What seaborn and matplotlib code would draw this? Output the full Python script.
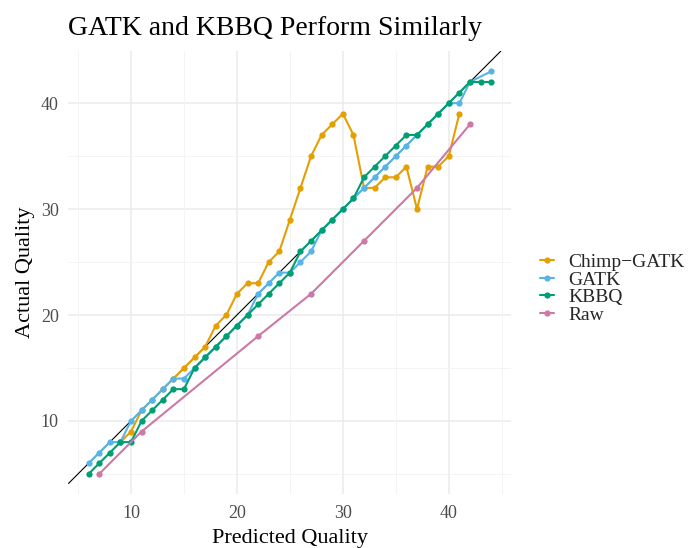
import numpy as np
import pandas as pd
import matplotlib
matplotlib.use("Agg")
import matplotlib.pyplot as plt
import seaborn as sns

# Calibration curves: predicted vs. actual base quality per method
chimp_x = [9, 10, 11, 12, 13, 14, 15, 16, 17, 18, 19, 20, 21, 22, 23, 24, 25,
           26, 27, 28, 29, 30, 31, 32, 33, 34, 35, 36, 37, 38, 39, 40, 41]
chimp_y = [8, 9, 11, 12, 13, 14, 15, 16, 17, 19, 20, 22, 23, 23, 25, 26, 29,
           32, 35, 37, 38, 39, 37, 32, 32, 33, 33, 34, 30, 34, 34, 35, 39]

gatk_x = [6, 7, 8, 9, 10, 11, 12, 13, 14, 15, 16, 17, 18, 19, 20, 21, 22, 23,
          24, 25, 26, 27, 28, 29, 30, 31, 32, 33, 34, 35, 36, 37, 38, 39, 40,
          41, 42, 44]
gatk_y = [6, 7, 8, 8, 10, 11, 12, 13, 14, 14, 15, 16, 17, 18, 19, 20, 22, 23,
          24, 24, 25, 26, 28, 29, 30, 31, 32, 33, 34, 35, 36, 37, 38, 39, 40,
          40, 42, 43]

kbbq_x = [6, 7, 8, 9, 10, 11, 12, 13, 14, 15, 16, 17, 18, 19, 20, 21, 22, 23,
          24, 25, 26, 27, 28, 29, 30, 31, 32, 33, 34, 35, 36, 37, 38, 39, 40,
          41, 42, 43, 44]
kbbq_y = [5, 6, 7, 8, 8, 10, 11, 12, 13, 13, 15, 16, 17, 18, 19, 20, 21, 22,
          23, 24, 26, 27, 28, 29, 30, 31, 33, 34, 35, 36, 37, 37, 38, 39, 40,
          41, 42, 42, 42]

raw_x = [7, 11, 22, 27, 32, 37, 42]
raw_y = [5, 9, 18, 22, 27, 32, 38]

methods = ["Chimp\u2212GATK", "GATK", "KBBQ", "Raw"]
colors = ["#E69F00", "#56B4E9", "#009E73", "#CC79A7"]

df = pd.concat([
    pd.DataFrame({"Predicted": chimp_x, "Actual": chimp_y, "method": methods[0]}),
    pd.DataFrame({"Predicted": gatk_x, "Actual": gatk_y, "method": methods[1]}),
    pd.DataFrame({"Predicted": kbbq_x, "Actual": kbbq_y, "method": methods[2]}),
    pd.DataFrame({"Predicted": raw_x, "Actual": raw_y, "method": methods[3]}),
], ignore_index=True)

sns.set_theme(style="white")
plt.rcParams["font.family"] = ["Liberation Serif", "DejaVu Serif"]

fig = plt.figure(figsize=(6.94, 5.48), dpi=100)
ax = fig.add_axes([0.0987, 0.0985, 0.638, 0.808])

allx = chimp_x + gatk_x + kbbq_x + raw_x
ally = chimp_y + gatk_y + kbbq_y + raw_y
xr = max(allx) - min(allx)
yr = max(ally) - min(ally)
xlim = (min(allx) - 0.05 * xr, max(allx) + 0.05 * xr)
ylim = (min(ally) - 0.05 * yr, max(ally) + 0.05 * yr)

# grid: major and minor lines
for v in [10, 20, 30, 40]:
    ax.axvline(v, color="#EBEBEB", lw=1.1, zorder=0)
    ax.axhline(v, color="#EBEBEB", lw=1.1, zorder=0)
for v in [5, 15, 25, 35, 45]:
    ax.axvline(v, color="#F2F2F2", lw=0.6, zorder=0)
    ax.axhline(v, color="#F2F2F2", lw=0.6, zorder=0)

# identity line
ax.axline((0, 0), slope=1, color="black", lw=0.8, zorder=1)

sns.lineplot(data=df, x="Predicted", y="Actual", hue="method",
             hue_order=methods, palette=colors, marker="o", markersize=4.5,
             markeredgewidth=0, linewidth=1.5, sort=True, ax=ax, zorder=2)

ax.set_xlim(*xlim)
ax.set_ylim(*ylim)
ax.set_xticks([10, 20, 30, 40])
ax.set_yticks([10, 20, 30, 40])
ax.tick_params(axis="both", length=0, labelsize=13, labelcolor="#4D4D4D", pad=7)
ax.tick_params(axis="x", pad=8)
for s in ax.spines.values():
    s.set_visible(False)
ax.grid(False)

ax.set_xlabel("Predicted Quality", fontsize=16, color="black", labelpad=5)
ax.set_ylabel("Actual Quality", fontsize=16, color="black", labelpad=4)
ax.set_title("GATK and KBBQ Perform Similarly", loc="left", fontsize=20,
             color="black", pad=12)

handles, labels = ax.get_legend_handles_labels()
ax.legend(handles, labels, loc="center left", bbox_to_anchor=(0.7669, 0.4735),
          bbox_transform=fig.transFigure, frameon=False, fontsize=14,
          handlelength=0.72, handletextpad=0.72, labelspacing=0.0,
          borderaxespad=0)

fig.savefig("out.png", dpi=100)
